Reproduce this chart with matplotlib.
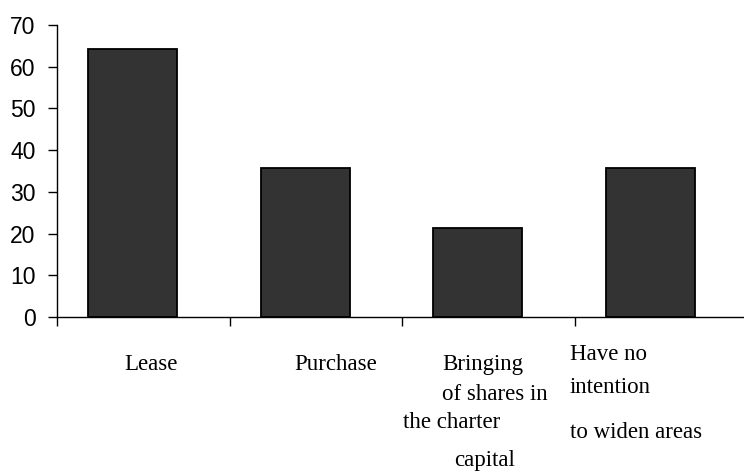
import matplotlib
matplotlib.use("Agg")
import matplotlib.pyplot as plt

# Share of respondents (%) by way of expanding land areas
categories = ["Lease", "Purchase",
              "Bringing of shares in the charter capital",
              "Have no intention to widen areas"]
values = [64.3, 35.7, 21.4, 35.7]
y_ticks = [0, 10, 20, 30, 40, 50, 60, 70]

# Category labels broken into lines: (text, x offset from bar, y in data units, alignment)
label_lines = [
    [("Lease", 0.110, -11.3, "center")],
    [("Purchase", 0.176, -11.3, "center")],
    [("Bringing", 0.030, -11.5, "center"),
     ("of shares in", 0.099, -18.7, "center"),
     ("the charter", -0.150, -25.2, "center"),
     ("capital", 0.036, -34.3, "center")],
    [("Have no", -0.467, -9.1, "left"),
     ("intention", -0.467, -17.0, "left"),
     ("to widen areas", -0.467, -27.6, "left")],
]

fig = plt.figure(figsize=(7.44, 4.72), dpi=100)
ax = fig.add_axes([0.0766, 0.3284, 0.9234, 0.6186])

x = list(range(len(values)))
ax.bar(x, values, width=0.515, color="#333333", edgecolor="black",
       linewidth=1.3, zorder=3)

ax.set_ylim(0, 70)
ax.set_xlim(-0.437, 3.541)
ax.set_yticks(y_ticks)
ax.set_yticklabels([str(t) for t in y_ticks], family="Liberation Sans", fontsize=16.5)
ax.tick_params(axis="y", direction="out", length=6.5, width=1, pad=9)

# category boundaries as x ticks
bounds = [i - 0.437 for i in range(len(values))]
ax.set_xticks(bounds)
ax.set_xticklabels([])
ax.tick_params(axis="x", direction="out", length=6.5, width=1)

for side in ("top", "right"):
    ax.spines[side].set_visible(False)
for side in ("left", "bottom"):
    ax.spines[side].set_linewidth(1)

for i, lines in enumerate(label_lines):
    for text, dx, yv, ha in lines:
        ax.text(i + dx, yv, text, ha=ha, va="center", fontsize=16.5,
                family="Liberation Serif", clip_on=False)

fig.savefig("out.png", dpi=100)
